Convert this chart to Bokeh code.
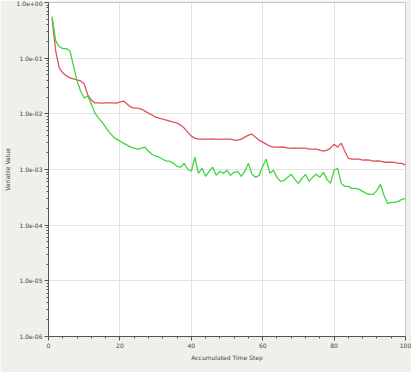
from bokeh.plotting import figure
from bokeh.models import Legend, LegendItem, CustomJSTickFormatter, FixedTicker
from bokeh.embed import file_html
from bokeh.resources import INLINE

steps = list(range(1, 101))

rms_p_mass = [
    0.51, 0.136, 0.0671, 0.0545, 0.0481, 0.0443, 0.0425, 0.0407, 0.0391, 0.0345,
    0.0218, 0.0177, 0.0157, 0.0157, 0.0156, 0.0157, 0.0158, 0.0157, 0.0156, 0.0163,
    0.0170, 0.0150, 0.0133, 0.0127, 0.0127, 0.0122, 0.0112, 0.0103, 0.00951, 0.00875,
    0.00839, 0.00805, 0.00773, 0.00741, 0.00711, 0.00682, 0.00628, 0.00554, 0.00469, 0.00397,
    0.00366, 0.00351, 0.00352, 0.00350, 0.00351, 0.00353, 0.00351, 0.00349, 0.00351, 0.00352,
    0.00350, 0.00337, 0.00337, 0.00351, 0.00381, 0.00414, 0.00432, 0.00381, 0.00337, 0.00310,
    0.00285, 0.00262, 0.00252, 0.00253, 0.00251, 0.00252, 0.00242, 0.00243, 0.00241, 0.00242,
    0.00243, 0.00242, 0.00232, 0.00233, 0.00232, 0.00222, 0.00213, 0.00222, 0.00242, 0.00285,
    0.00252, 0.00297, 0.00213, 0.00159, 0.00153, 0.00154, 0.00153, 0.00147, 0.00148, 0.00147,
    0.00141, 0.00142, 0.00141, 0.00135, 0.00136, 0.00135, 0.00134, 0.00129, 0.00129, 0.00119,
]

rms_u_mom = [
    0.56, 0.206, 0.161, 0.148, 0.148, 0.136, 0.0729, 0.0391, 0.0258, 0.0193,
    0.0209, 0.0150, 0.0103, 0.00839, 0.00711, 0.00578, 0.00469, 0.00397, 0.00351, 0.00323,
    0.00297, 0.00274, 0.00252, 0.00242, 0.00232, 0.00242, 0.00252, 0.00213, 0.00188, 0.00173,
    0.00166, 0.00153, 0.00141, 0.00141, 0.00129, 0.00114, 0.00110, 0.00129, 0.00101, 0.000929,
    0.00166, 0.000854, 0.00105, 0.000754, 0.000929, 0.00110, 0.000786, 0.000929, 0.000854, 0.000968,
    0.000786, 0.000890, 0.000929, 0.000754, 0.000929, 0.00129, 0.000819, 0.000723, 0.000786, 0.00114,
    0.00153, 0.000854, 0.000968, 0.000723, 0.000612, 0.000638, 0.000723, 0.000819, 0.000665, 0.000563,
    0.000693, 0.000819, 0.000612, 0.000723, 0.000819, 0.000723, 0.000890, 0.000665, 0.000563, 0.000968,
    0.00105, 0.000563, 0.000498, 0.000498, 0.000458, 0.000458, 0.000440, 0.000404, 0.000372, 0.000357,
    0.000357, 0.000422, 0.000541, 0.000342, 0.000245, 0.000256, 0.000256, 0.000267, 0.000290, 0.000302,
]

x_ticks = [0, 20, 40, 60, 80, 100]
y_ticks = [1e-6, 1e-5, 1e-4, 1e-3, 1e-2, 1e-1, 1.0]
series_names = ["RMS P-Mass", "RMS U-Mom"]
series_colors = ["#e0505e", "#3fd63f"]

FONT = "DejaVu Sans"

p = figure(
    frame_width=357, frame_height=334,
    x_range=(0, 100), y_range=(1e-6, 1.0),
    y_axis_type="log",
    output_backend="svg", toolbar_location=None,
    min_border_left=39, min_border_right=7, min_border_top=2, min_border_bottom=36,
    border_fill_color="#efefec", background_fill_color="white",
    outline_line_color="#c8c8c8",
)

r1 = p.line(steps, rms_p_mass, line_color=series_colors[0], line_width=1.3)
r2 = p.line(steps, rms_u_mom, line_color=series_colors[1], line_width=1.3)

p.xaxis.ticker = FixedTicker(ticks=x_ticks, minor_ticks=list(range(0, 101, 4)))
p.yaxis.ticker = FixedTicker(ticks=y_ticks,
                             minor_ticks=[m * 10 ** e for e in range(-6, 0) for m in (2, 3, 4, 5, 6, 7, 8, 9)])
p.yaxis.formatter = CustomJSTickFormatter(code="""
    const s = tick.toExponential(1);
    const parts = s.split('e');
    let e = parts[1];
    const sign = e[0];
    let d = e.slice(1);
    if (d.length < 2) d = '0' + d;
    return parts[0] + 'e' + sign + d;
""")

p.xaxis.axis_label = "Accumulated Time Step"
p.yaxis.axis_label = "Variable Value"
for ax in (p.xaxis[0], p.yaxis[0]):
    ax.axis_label_text_font = FONT
    ax.axis_label_text_font_size = "6px"
    ax.axis_label_text_font_style = "normal"
    ax.axis_label_text_color = "#444444"
    ax.major_label_text_font = FONT
    ax.major_label_text_font_size = "6px"
    ax.major_label_text_color = "#444444"
    ax.axis_line_color = "#555555"
    ax.major_tick_line_color = "#555555"
    ax.minor_tick_line_color = "#555555"
    ax.major_tick_in = 0
    ax.major_tick_out = 4
    ax.minor_tick_in = 0
    ax.minor_tick_out = 2
    ax.axis_label_standoff = 3
    ax.major_label_standoff = 2

p.xgrid.grid_line_color = "#e2e2e2"
p.ygrid.grid_line_color = "#e2e2e2"

legend = Legend(
    items=[LegendItem(label=series_names[0], renderers=[r1]),
           LegendItem(label=series_names[1], renderers=[r2])],
    orientation="horizontal", location=(122, -28),
    label_text_font=FONT, label_text_font_size="6px", label_text_color="#444444",
    glyph_width=14, glyph_height=6, label_height=6, label_standoff=4,
    spacing=12, padding=2, margin=0,
    border_line_color="#999999", background_fill_color="white", background_fill_alpha=1.0,
)
p.add_layout(legend, "center")

open("out.html", "w").write(file_html(p, INLINE))
